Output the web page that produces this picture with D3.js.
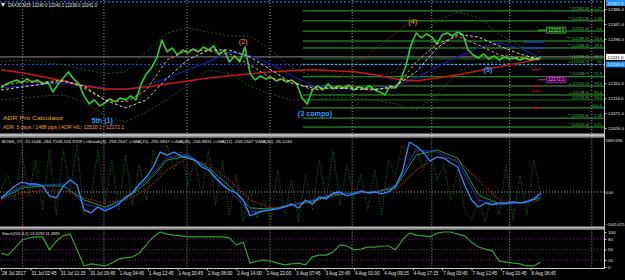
<!DOCTYPE html>
<html>
<head>
<meta charset="utf-8">
<script src="https://cdn.jsdelivr.net/npm/d3@7"></script>
<style>
html, body { margin: 0; padding: 0; background: #000; }
svg { display: block; }
text { font-family: "Liberation Sans", Arial, sans-serif; }
</style>
</head>
<body>
<svg id="chart" width="625" height="280"></svg>
<script>
// ---- data (bars are M15 bar indices from the left edge) ----
const PRICE_STEP = 6;   // close sampled every 6 bars
const OSC_STEP = 8;     // oscillator / stoch sampled every 8 bars
const MA_STEP = 24;     // moving averages sampled every 24 bars

const priceClose = [
    12147.2, 12159.3, 12165.4, 12171.4, 12162.3, 12174.4, 12165.4, 12171.4, 12159.3, 12165.4,
    12135.2, 12159.3, 12177.4, 12195.6, 12174.4, 12159.3, 12123.1, 12098.9, 12111.0, 12092.9,
    12101.9, 12114.0, 12105.0, 12117.0, 12111.0, 12123.1, 12111.0, 12159.3, 12189.5, 12207.6,
    12237.8, 12292.2, 12256.0, 12268.0, 12246.9, 12262.0, 12252.9, 12265.0, 12256.0, 12271.1,
    12262.0, 12274.1, 12246.9, 12262.0, 12225.8, 12243.9, 12225.8, 12271.1, 12189.5, 12171.4,
    12183.5, 12174.4, 12180.5, 12168.4, 12174.4, 12165.4, 12171.4, 12159.3, 12117.0, 12098.9,
    12141.2, 12153.3, 12141.2, 12159.3, 12144.2, 12153.3, 12147.2, 12156.3, 12141.2, 12150.3,
    12144.2, 12153.3, 12141.2, 12135.2, 12126.1, 12153.3, 12147.2, 12171.4, 12213.7, 12277.1,
    12313.3, 12298.2, 12310.3, 12301.3, 12280.1, 12307.3, 12313.3, 12304.3, 12316.4, 12307.3,
    12262.0, 12246.9, 12237.8, 12249.9, 12234.8, 12243.9, 12231.8, 12240.9, 12234.8, 12237.8,
    12231.8, 12237.8, 12231.8, 12234.8, 12241.0
];

const maSlowRed = [12202, 12193, 12181, 12168, 12153, 12144, 12144, 12150, 12159, 12168, 12177, 12184, 12190, 12196,
    12199, 12202, 12199, 12196, 12187, 12174, 12168, 12177, 12187, 12199, 12211, 12223, 12235];
const maNavy = [12147, 12153, 12159, 12162, 12156, 12147, 12141, 12156, 12177, 12202, 12226, 12256, 12244, 12220,
    12184, 12156, 12147, 12144, 12144, 12153, 12177, 12211, 12241, 12268, 12283, 12268, 12238];
const maGrey = [12141, 12150, 12159, 12168, 12153, 12111, 12087, 12111, 12177, 12232, 12262, 12262, 12241, 12202,
    12162, 12147, 12147, 12144, 12141, 12153, 12196, 12268, 12310, 12301, 12274, 12250, 12232];
const maOrange = [12153, 12165, 12165, 12171, 12147, 12111, 12105, 12141, 12232, 12262, 12259, 12250, 12217, 12177,
    12168, 12141, 12147, 12150, 12144, 12147, 12226, 12280, 12304, 12277, 12247, 12238, 12235];
const bandUpper = [12226, 12232, 12226, 12217, 12202, 12190, 12196, 12256, 12313, 12328, 12316, 12304, 12304, 12262,
    12208, 12184, 12184, 12181, 12181, 12196, 12292, 12347, 12377, 12359, 12310, 12274, 12256];
const bandLower = [12111, 12117, 12123, 12126, 12105, 12063, 12045, 12075, 12111, 12159, 12202, 12190, 12153, 12129,
    12111, 12111, 12117, 12117, 12111, 12099, 12081, 12123, 12196, 12220, 12226, 12214, 12208];

const priceTicks = [12386, 12341, 12296, 12251, 12206, 12161, 12116, 12071, 12026];
const lastClose = 12241.0;
const blueLevel = 12218.4;
const topLevel = 12407.4;

const fibStartBar = 349;
const fibLevels = [12380, 12350, 12319, 12289, 12268, 12235, 12181, 12153, 12126, 12111, 12087, 12056, 12029];
const fibNames = ['* (12381.8)', '** (12351.8)', '(12322.4)', '*** (12289.0)', '** (12268.4)', '* (12236.2)',
    '* (12183.7)', '= (12151.0)', '= (12128.0)', '(12113.8)', '', '** (12056.6)', '* (12029.4)'];
const fibPcts = ['= 1.27', '1.38', '0.0', '14.6', '23.6', '38.2', '61.8', '76.4', '85.4', '94.4', '100.0', '1.38', '0.21'];
const midName = '= (12210.3)';
const midPct = '50';

const waveLabels = ['5th (1)', '(2)', '(3 compo)', '(4)', '(5)'];
const waveBars = [117, 280, 363, 476, 563];
const wavePrices = [12048, 12289, 12069, 12347, 12202];

const trendBars = [357, 473];
const trendPrices = [12111, 12347];

const redMarkPrices = [12202, 12153, 12138, 12087];
const blueMarkPrices = [12286, 12268];

// BOSS_V2 oscillator
const oscMain = [
    -192, 0, 192, 320, 256, 256, 192, -128, -192, 192, 384, 224, -576, -672, -480, -608, -512, -384, -160, -32,
    256, 480, 800, 1280, 1184, 1280, 1152, 1088, 1024, 800, 704, 448, 224, 64, -32, -256, -768, -672, -608, -576,
    -544, -480, -384, -512, -256, -384, -160, -224, -32, 0, -128, -64, 32, -32, 0, -64, 0, 192, 640, 1600,
    1472, 1280, 992, 1120, 1088, 928, 800, 224, -256, -480, -352, -416, -352, -352, -320, -352, -320, -224, -32
];
const oscRaw = [
    64, 544, -256, 1344, -96, 1024, -576, 1344, -736, 1344, 64, 1504, -736, -256, 1344, -416, 1024, -576, 1184, -416,
    864, -256, 1344, 544, 1504, 704, 1344, 224, 1024, -96, 1344, -416, 1024, -736, 544, -960, 64, -832, -256, -896,
    704, -736, 384, -960, 544, -576, 1024, -256, 1344, -416, 864, -256, 544, -576, 704, -736, 1024, 544, 1504, 1024,
    1408, 704, 1344, 384, 864, -256, 704, -576, -896, -256, -960, 64, -736, 864, -896, 544, -736, 1024, -96
];
const oscMaRed = [-256, -32, 64, 64, -192, -352, -256, 64, 704, 1088, 864, 384, -256, -512, -448, -320, -128, -32,
    0, 64, 704, 1120, 1024, 384, -256, -352, -256];
const oscMaGreen = [-224, 128, 192, 192, -256, -480, -224, 288, 1024, 1152, 768, 192, -512, -544, -416, -288, -96,
    -32, 0, 128, 1184, 1344, 1088, -96, -384, -352, -192];
const oscMaNavy = [-192, 192, 224, 256, -384, -544, -192, 384, 1088, 1216, 704, 64, -640, -576, -416, -256, -64,
    -32, 0, 192, 1344, 1280, 960, -256, -416, -352, -128];
const oscTicks = [1669.096, 0, -1045.675];

// Stochastic(100,4,1)
const stochMain = [
    40, 34, 54, 77, 83, 86, 86, 49, 74, 89, 94, 49, 3, 9, 6, 3, 11, 23, 26, 29,
    40, 63, 86, 100, 94, 91, 89, 86, 86, 86, 86, 86, 86, 83, 63, 71, 11, 17, 20, 17,
    11, 6, 9, 11, 6, 29, 34, 34, 43, 63, 60, 49, 51, 57, 57, 60, 60, 49, 77, 97,
    91, 89, 86, 97, 100, 100, 94, 89, 71, 57, 51, 46, 17, 14, 11, 9, 3, 3, 14
];
const stochLevels = [80, 50, 20];
const stochTicks = [100, 80, 50, 20, 0];

const timeLabels = ['28 Jul 2017', '31 Jul 02:45', '31 Jul 11:15', '31 Jul 19:45', '1 Aug 04:45', '1 Aug 12:45',
    '1 Aug 20:45', '2 Aug 06:00', '2 Aug 14:00', '2 Aug 22:00', '3 Aug 07:45', '3 Aug 15:45', '4 Aug 01:00',
    '4 Aug 09:15', '4 Aug 17:15', '7 Aug 03:45', '7 Aug 12:45', '7 Aug 20:45', '8 Aug 06:45'];
const timeBarStep = 34;
const gridBars = [25, 119, 215, 311, 406, 498, 588, 683];

// ---- layout ----
const PLOT_RIGHT = 604;
const MAIN = { top: 0, bottom: 133 };
const OSC = { top: 137.5, bottom: 226.5 };
const STO = { top: 229.5, bottom: 268 };

const svg = d3.select('#chart');
svg.append('rect').attr('width', 625).attr('height', 280).attr('fill', '#000');

const x = d3.scaleLinear().domain([0, 700]).range([1, 606.5]);
const yPrice = d3.scaleLinear().domain([12005, 12413]).range([135, 0]);
const yOsc = d3.scaleLinear().domain([-1090, 1730]).range([226, 138]);
const ySto = d3.scaleLinear().domain([0, 100]).range([267, 232]);

const clip = (id, p) => svg.append('clipPath').attr('id', id).append('rect')
    .attr('x', 0).attr('y', p.top).attr('width', PLOT_RIGHT).attr('height', p.bottom - p.top);
clip('clipMain', MAIN);
clip('clipOsc', OSC);
clip('clipSto', STO);

const gMain = svg.append('g').attr('clip-path', 'url(#clipMain)');
const gOsc = svg.append('g').attr('clip-path', 'url(#clipOsc)');
const gSto = svg.append('g').attr('clip-path', 'url(#clipSto)');

const series = (g, data, step, y, color, width, dash) => {
    const line = d3.line().x((d, i) => x(i * step)).y(d => y(d));
    g.append('path')
        .datum(data)
        .attr('d', line)
        .attr('fill', 'none')
        .attr('stroke', color)
        .attr('stroke-width', width)
        .attr('stroke-dasharray', dash || null)
        .attr('stroke-linejoin', 'round');
};

const label = (g, txt, px, py, opts = {}) => {
    const t = g.append('text')
        .attr('x', px).attr('y', py)
        .attr('fill', opts.color || '#e6e6e6')
        .attr('font-size', opts.size || 4.6)
        .attr('font-weight', opts.bold ? 'bold' : null)
        .attr('text-anchor', opts.anchor || 'start')
        .text(txt);
    if (opts.len) t.attr('textLength', opts.len).attr('lengthAdjust', 'spacingAndGlyphs');
    return t;
};

// vertical grid (all panels)
[[gMain, MAIN], [gOsc, OSC], [gSto, STO]].forEach(([g, p]) => {
    g.selectAll(null).data(gridBars).join('line')
        .attr('x1', d => x(d)).attr('x2', d => x(d))
        .attr('y1', p.top).attr('y2', p.bottom)
        .attr('stroke', '#c8c8c8').attr('stroke-width', 0.8).attr('stroke-dasharray', '1,2');
});

// ---- main panel ----
const hline = (g, price, color, dash, x0) => g.append('line')
    .attr('x1', x0 || 0).attr('x2', PLOT_RIGHT)
    .attr('y1', yPrice(price)).attr('y2', yPrice(price))
    .attr('stroke', color).attr('stroke-width', 1).attr('stroke-dasharray', dash || null);

hline(gMain, topLevel, '#1e90ff', '2,2');

gMain.selectAll(null).data(fibLevels).join('line')
    .attr('x1', x(fibStartBar)).attr('x2', PLOT_RIGHT)
    .attr('y1', d => yPrice(d)).attr('y2', d => yPrice(d))
    .attr('stroke', (d, i) => (i === 5 || i === 9 ? '#1d6e1d' : '#3aa83a'))
    .attr('stroke-width', 1);

hline(gMain, lastClose, '#8c8c8c');
hline(gMain, blueLevel, '#1e5aff', '2,2');
hline(gMain, blueLevel, '#30e0f0', '2,2', x(fibStartBar));

series(gMain, bandUpper, MA_STEP, yPrice, '#1f5a1f', 1, '2,2');
series(gMain, bandLower, MA_STEP, yPrice, '#1f5a1f', 1, '2,2');
series(gMain, maNavy, MA_STEP, yPrice, '#1c1c9a', 1.2);
series(gMain, maSlowRed, MA_STEP, yPrice, '#c81818', 1.5);

gMain.append('path')
    .datum(trendBars.map((b, i) => [b, trendPrices[i]]))
    .attr('d', d3.line().x(d => x(d[0])).y(d => yPrice(d[1])))
    .attr('stroke', '#b01818').attr('stroke-width', 1).attr('stroke-dasharray', '1.5,2').attr('fill', 'none');

series(gMain, priceClose, PRICE_STEP, yPrice, '#2fd02f', 1.6);
series(gMain, maOrange, MA_STEP, yPrice, '#e09a3a', 1, '3,2');
series(gMain, maGrey, MA_STEP, yPrice, '#d0d0d0', 1, '3,2');

// right side marks
gMain.selectAll(null).data(redMarkPrices).join('line')
    .attr('x1', x(614)).attr('x2', x(624))
    .attr('y1', d => yPrice(d)).attr('y2', d => yPrice(d))
    .attr('stroke', '#c01010').attr('stroke-width', 1.2);
gMain.selectAll(null).data(blueMarkPrices).join('line')
    .attr('x1', x(604)).attr('x2', x(627))
    .attr('y1', d => yPrice(d)).attr('y2', d => yPrice(d))
    .attr('stroke', '#1c3cd0').attr('stroke-width', 1.5);

const boxLabel = (txt, bar, price, stroke, fill, color) => {
    const cx = x(bar), cy = yPrice(price);
    gMain.append('line').attr('x1', cx - 9).attr('x2', cx).attr('y1', cy).attr('y2', cy)
        .attr('stroke', stroke).attr('stroke-width', 1);
    gMain.append('rect').attr('x', cx).attr('y', cy - 3).attr('width', 19).attr('height', 6)
        .attr('fill', fill).attr('stroke', stroke).attr('stroke-width', 0.8);
    label(gMain, txt, cx + 9.5, cy + 1.7, { anchor: 'middle', color, len: 16 });
};
boxLabel('12323.1', 631, 12322, '#3cc03c', '#0a2a0a', '#8ef08e');
boxLabel('12172.1', 631, 12172, '#c020c0', '#3a003a', '#f0a0f0');

const FIB_NAME_END = 589, FIB_PCT_END = 602;
fibNames.forEach((t, i) => {
    const ty = yPrice(fibLevels[i]) - 1.3;
    if (t) label(gMain, t, FIB_NAME_END, ty, { anchor: 'end', color: '#4cc04c', size: 4 });
    label(gMain, fibPcts[i], FIB_PCT_END, ty, { anchor: 'end', color: '#4cc04c', size: 4 });
});
label(gMain, midName, FIB_NAME_END, yPrice(blueLevel) - 1.3, { anchor: 'end', color: '#4cc04c', size: 4 });
label(gMain, midPct, FIB_PCT_END, yPrice(blueLevel) - 1.3, { anchor: 'end', color: '#4cc04c', size: 4 });

waveLabels.forEach((t, i) => {
    const orange = t === '(2)' || t === '(4)';
    label(gMain, t, x(waveBars[i]), yPrice(wavePrices[i]) + 2.5, {
        anchor: 'middle', color: orange ? '#ff9a1e' : '#2a9aff', size: 7.2, bold: !orange
    });
});

// title & ADR
gMain.append('path').attr('d', 'M1,3 L5,3 L3,7 Z').attr('fill', '#e6e6e6');
label(gMain, 'DAX30,M15  12240.0 12243.3 12238.0 12241.0', 8, 7, { len: 89 });
label(gMain, 'ADR Pro Calculator', 3, 120, { color: '#f0a020', size: 5.2, len: 60 });
label(gMain, 'ADR: 5 days / 1488 pips | ADR H/L: 12520.1 / 12172.1', 3, 129, { color: '#f0a020', size: 5.2, len: 121 });

// ---- oscillator panel ----
gOsc.append('line').attr('x1', 0).attr('x2', PLOT_RIGHT).attr('y1', yOsc(0)).attr('y2', yOsc(0))
    .attr('stroke', '#c8c8c8').attr('stroke-width', 0.8).attr('stroke-dasharray', '1,2');
series(gOsc, oscRaw, OSC_STEP, yOsc, '#1d6a1d', 1, '1,1.5');
series(gOsc, oscMaRed, MA_STEP, yOsc, '#e02020', 1.2, '1,1.5');
series(gOsc, oscMaGreen, MA_STEP, yOsc, '#1a9a3a', 1);
series(gOsc, oscMaNavy, MA_STEP, yOsc, '#2638b8', 1);
series(gOsc, oscMain, OSC_STEP, yOsc, '#2e8cff', 1.3);
label(gOsc, 'BOSS_V2 -70.1548 -294.7108 203.3709  <<Bands(3) -259.2547  <<MA(15) -255.5837  <<MA(45) -256.9831  <<MA(11) -259.2547  %MA(34) -35.1240',
    2, 143, { len: 290, size: 4.4 });

// ---- stochastic panel ----
gSto.selectAll(null).data(stochLevels).join('line')
    .attr('x1', 0).attr('x2', PLOT_RIGHT)
    .attr('y1', d => ySto(d)).attr('y2', d => ySto(d))
    .attr('stroke', '#8a1a8a').attr('stroke-width', 0.9).attr('stroke-dasharray', '1,2');
series(gSto, stochMain, OSC_STEP, ySto, '#2ea42e', 1.2);
label(gSto, 'Stoch(100,4,1) 13.6192 11.4891', 2, 234.5, { len: 58, size: 4.4 });

// ---- frames ----
const sep = (yTop, h) => {
    svg.append('rect').attr('x', 0).attr('y', yTop).attr('width', PLOT_RIGHT + 1).attr('height', h).attr('fill', '#b8b8b8');
    svg.append('line').attr('x1', 0).attr('x2', PLOT_RIGHT + 1).attr('y1', yTop + h - 0.5).attr('y2', yTop + h - 0.5)
        .attr('stroke', '#6e6e6e').attr('stroke-width', 1);
};
sep(133.5, 4);
sep(226.5, 3);
svg.append('line').attr('x1', PLOT_RIGHT + 0.5).attr('x2', PLOT_RIGHT + 0.5).attr('y1', 0).attr('y2', 268.5)
    .attr('stroke', '#c8c8c8').attr('stroke-width', 1);

// ---- axes ----
const styleAxis = (size) => (g) => {
    g.select('.domain').remove();
    g.selectAll('line').attr('stroke', '#c8c8c8');
    g.selectAll('text').attr('fill', '#e6e6e6').attr('font-size', size)
        .attr('font-family', '"Liberation Sans", Arial, sans-serif');
};

// tick labels hidden behind the highlighted tags are left out
const tagPrices = [lastClose, blueLevel];
const visibleTicks = priceTicks.filter(t => tagPrices.every(p => Math.abs(yPrice(t) - yPrice(p)) > 6));

svg.append('g').attr('transform', `translate(${PLOT_RIGHT + 1},0)`)
    .call(d3.axisRight(yPrice).tickValues(visibleTicks).tickSize(1.5).tickPadding(1.5).tickFormat(d3.format('.1f')))
    .call(styleAxis(4.4));
svg.append('g').attr('transform', `translate(${PLOT_RIGHT + 1},0)`)
    .call(d3.axisRight(yOsc).tickValues(oscTicks).tickSize(0).tickPadding(0.5)
        .tickFormat(d => (d === 0 ? '0.00' : d3.format('.3f')(d))))
    .call(styleAxis(4));
svg.append('g').attr('transform', `translate(${PLOT_RIGHT + 1},0)`)
    .call(d3.axisRight(ySto).tickValues(stochTicks).tickSize(1.5).tickPadding(1.5))
    .call(styleAxis(4.4));

// highlighted price tags
const tag = (price, txt, bg, fg) => {
    const cy = Math.max(3, yPrice(price));
    svg.append('rect').attr('x', PLOT_RIGHT + 2).attr('y', cy - 3).attr('width', 19).attr('height', 6).attr('fill', bg);
    label(svg, txt, PLOT_RIGHT + 3.5, cy + 1.6, { color: fg, size: 4.4 });
};
tag(topLevel, '12407.4', '#1e90ff', '#ffffff');
tag(lastClose, '12241.0', '#ffffff', '#000000');
tag(blueLevel, '12218.4', '#1e90ff', '#ffffff');

const timeBars = timeLabels.map((d, i) => i * timeBarStep);
const xAxis = svg.append('g').attr('transform', 'translate(0,268.5)')
    .call(d3.axisBottom(x).tickValues(timeBars).tickSize(2).tickPadding(1.5).tickFormat((d, i) => timeLabels[i]));
xAxis.select('.domain').attr('stroke', '#c8c8c8').attr('d', `M0,0H${PLOT_RIGHT + 1}`);
xAxis.selectAll('line').attr('stroke', '#c8c8c8');
xAxis.selectAll('text').attr('fill', '#e6e6e6').attr('font-size', 4.6).attr('text-anchor', 'start').attr('dx', 0.5)
    .attr('font-family', '"Liberation Sans", Arial, sans-serif');
</script>
</body>
</html>
